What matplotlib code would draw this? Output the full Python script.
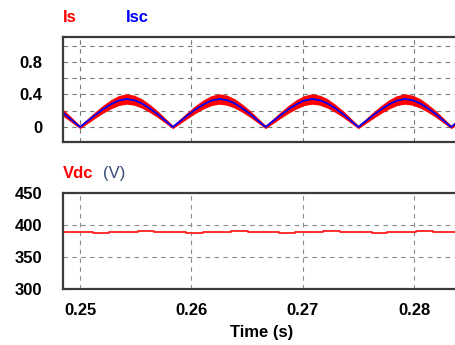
import matplotlib
matplotlib.use("Agg")
import matplotlib.pyplot as plt
from matplotlib.ticker import FixedLocator

plt.rcParams['font.family'] = ['Liberation Sans', 'DejaVu Sans']

# ---- data ----
t_i = [0.247917, 0.248611, 0.249306,
       0.250000, 0.250694, 0.251389, 0.252083, 0.252778, 0.253472, 0.254167, 0.254861, 0.255556, 0.256250, 0.256944, 0.257639,
       0.258333, 0.259028, 0.259722, 0.260417, 0.261111, 0.261806, 0.262500, 0.263194, 0.263889, 0.264583, 0.265278, 0.265972,
       0.266667, 0.267361, 0.268056, 0.268750, 0.269444, 0.270139, 0.270833, 0.271528, 0.272222, 0.272917, 0.273611, 0.274306,
       0.275000, 0.275694, 0.276389, 0.277083, 0.277778, 0.278472, 0.279167, 0.279861, 0.280556, 0.281250, 0.281944, 0.282639,
       0.283333, 0.284028]
isc = [0.23, 0.16, 0.08,
       0.0, 0.075, 0.15, 0.22, 0.28, 0.325, 0.345, 0.33, 0.29, 0.23, 0.16, 0.08,
       0.0, 0.075, 0.15, 0.22, 0.28, 0.325, 0.345, 0.33, 0.29, 0.23, 0.16, 0.08,
       0.0, 0.075, 0.15, 0.22, 0.28, 0.325, 0.345, 0.33, 0.29, 0.23, 0.16, 0.08,
       0.0, 0.075, 0.15, 0.22, 0.28, 0.325, 0.345, 0.33, 0.29, 0.23, 0.16, 0.08,
       0.0, 0.075]
is_hi = [0.272, 0.193, 0.102,
         0.012, 0.097, 0.182, 0.261, 0.329, 0.379, 0.402, 0.385, 0.340, 0.272, 0.193, 0.102,
         0.012, 0.097, 0.182, 0.261, 0.329, 0.379, 0.402, 0.385, 0.340, 0.272, 0.193, 0.102,
         0.012, 0.097, 0.182, 0.261, 0.329, 0.379, 0.402, 0.385, 0.340, 0.272, 0.193, 0.102,
         0.012, 0.097, 0.182, 0.261, 0.329, 0.379, 0.402, 0.385, 0.340, 0.272, 0.193, 0.102,
         0.012, 0.097]
is_lo = [0.188, 0.127, 0.058,
         -0.012, 0.053, 0.118, 0.179, 0.231, 0.271, 0.288, 0.275, 0.240, 0.188, 0.127, 0.058,
         -0.012, 0.053, 0.118, 0.179, 0.231, 0.271, 0.288, 0.275, 0.240, 0.188, 0.127, 0.058,
         -0.012, 0.053, 0.118, 0.179, 0.231, 0.271, 0.288, 0.275, 0.240, 0.188, 0.127, 0.058,
         -0.012, 0.053, 0.118, 0.179, 0.231, 0.271, 0.288, 0.275, 0.240, 0.188, 0.127, 0.058,
         -0.012, 0.053]

t_v = [0.2480, 0.25114, 0.25263, 0.25518, 0.25667, 0.25949, 0.26108, 0.26354, 0.26512,
       0.26787, 0.26931, 0.27185, 0.27335, 0.27626, 0.27760, 0.28015, 0.28168, 0.2845]
vdc = [390, 387.5, 390, 391.5, 390, 387.5, 390, 391.5, 390,
       387.5, 390, 391.5, 390, 387.5, 390, 391.5, 390, 390]

x_ticks = [0.25, 0.26, 0.27, 0.28]
x_ticklabels = ['0.25', '0.26', '0.27', '0.28']
i_ticks = [0, 0.4, 0.8]
i_ticklabels = ['0', '0.4', '0.8']
i_grid = [0.2, 0.6, 1.0]
v_ticks = [300, 350, 400, 450]

W, H = 455, 345
fig = plt.figure(figsize=(W / 100, H / 100), dpi=100)

def ax_rect(l, t, r, b):
    return [l / W, 1 - b / H, (r - l) / W, (b - t) / H]

xlim = (0.248473, 0.28386)
spine_c = '#3a3a3a'
FS = 12

ax1 = fig.add_axes(ax_rect(63, 37, 457, 142))
ax2 = fig.add_axes(ax_rect(63, 193.3, 457, 289.3))

for ax, gc in ((ax1, '#7a7a7a'), (ax2, '#8c8c8c')):
    ax.set_xlim(*xlim)
    ax.set_xticks(x_ticks)
    ax.grid(True, which='both', color=gc, linestyle=(0, (4, 4)), linewidth=0.8)
    ax.set_axisbelow(True)
    for s in ('left', 'top', 'bottom'):
        ax.spines[s].set_color(spine_c)
        ax.spines[s].set_linewidth(1.6)
    ax.spines['right'].set_visible(False)
    ax.tick_params(axis='both', which='both', length=0)
    ax.tick_params(axis='y', pad=15)

# Top panel
ax1.fill_between(t_i, is_lo, is_hi, color='#ff0000', linewidth=0.8, edgecolor='#ff0000')
ax1.plot(t_i, isc, color='#0000ff', linewidth=1.3)
ax1.set_ylim(-0.185, 1.108)
ax1.set_yticks(i_ticks)
ax1.set_yticklabels(i_ticklabels, fontsize=FS, fontweight='bold')
ax1.yaxis.set_minor_locator(FixedLocator(i_grid))
ax1.set_xticklabels([])

# Bottom panel
ax2.plot(t_v, vdc, color='#ff2020', linewidth=1.3, drawstyle='steps-post')
ax2.set_ylim(300, 450)
ax2.set_yticks(v_ticks)
ax2.set_yticklabels([str(v) for v in v_ticks], fontsize=FS, fontweight='bold')
ax2.set_xticklabels(x_ticklabels, fontsize=FS, fontweight='bold')
ax2.tick_params(axis='x', pad=10)

# Labels
fig.text(63 / W, 1 - 22 / H, 'Is', color='#ff0000', fontsize=FS, fontweight='bold', ha='left', va='baseline')
fig.text(126 / W, 1 - 22 / H, 'Isc', color='#0000ff', fontsize=FS, fontweight='bold', ha='left', va='baseline')
fig.text(63 / W, 1 - 178 / H, 'Vdc', color='#ff0000', fontsize=FS, fontweight='bold', ha='left', va='baseline')
fig.text(103 / W, 1 - 178 / H, '(V)', color='#3a4a78', fontsize=FS, ha='left', va='baseline')
fig.text(262 / W, 1 - 332 / H, 'Time (s)', color='black', fontsize=FS, fontweight='bold', ha='center', va='center')

fig.savefig('out.png', dpi=100)
